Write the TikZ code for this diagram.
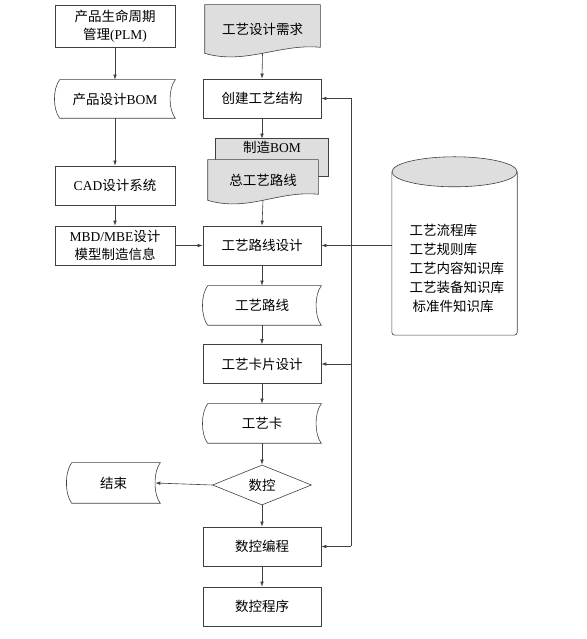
\documentclass[tikz,border=0pt]{standalone}
\usepackage{fontspec}
\setmainfont{Liberation Serif}
\newfontfamily\cjk{Noto Sans CJK SC}
\usepackage{tikz}
\usetikzlibrary{arrows.meta,shapes.geometric,backgrounds}
\definecolor{docgray}{gray}{0.87}
\newcommand{\zh}[1]{{\cjk #1}}

\tikzset{
  flow/.style={draw=black!75, line width=0.6pt},
  arr/.style={flow, -{Latex[length=5pt,width=3.5pt]}},
  box/.style={flow, rectangle, minimum width=118pt, minimum height=39pt, inner sep=2pt, align=center},
  lbox/.style={box, minimum width=120pt},
  stored/.style={box, draw=none},
  decide/.style={flow, diamond, minimum width=99pt, minimum height=40pt, inner sep=0pt},
}

% stored data: bulge out on the left, in on the right
\newcommand{\storedpath}[1]{%
  \draw[flow] ([xshift=5pt]#1.north west) -- (#1.north east)
    .. controls ([xshift=-7pt,yshift=-9pt]#1.north east) and ([xshift=-7pt,yshift=9pt]#1.south east) .. (#1.south east)
    -- ([xshift=5pt]#1.south west)
    .. controls ([xshift=-2pt,yshift=9pt]#1.south west) and ([xshift=-2pt,yshift=-9pt]#1.north west) .. cycle;}
% document: wavy bottom
\newcommand{\docpath}[1]{%
  \draw[flow, fill=docgray] (#1.south west) -- (#1.north west) -- (#1.north east) -- ([yshift=6pt]#1.south east)
    .. controls ([xshift=-40pt,yshift=10pt]#1.south east) and ([xshift=40pt,yshift=-12pt]#1.south west) .. cycle;}

\begin{document}
\begin{tikzpicture}[x=1pt, y=1pt, font=\fontsize{13.5}{18}\selectfont]
\useasboundingbox (0,0) rectangle (586,639);

% left column
\node[lbox, minimum height=42pt] (plm) at (115,613) {\zh{产品生命周期}\\\zh{管理}(PLM)};
\node[stored, minimum width=120pt, minimum height=38pt] (pbom) at (115,540) {\zh{产品设计}BOM};
\node[lbox] (cad) at (115,453.5) {CAD\zh{设计系统}};
\node[lbox] (mbd) at (115,393.5) {MBD/MBE\zh{设计}\\\zh{模型制造信息}};

% centre column
\node[box, draw=none, minimum width=115pt, minimum height=48pt] (req) at (262.5,610) {\zh{工艺设计需求}};
\node[box] (create) at (262,540.5) {\zh{创建工艺结构}};
\node[box, draw=none, minimum width=112pt, minimum height=37pt, text height=10pt, text depth=20pt] (mbom) at (272,481.5) {\zh{制造}BOM};
\node[box, draw=none, minimum width=110pt, minimum height=40pt] (route0) at (263,459) {\zh{总工艺路线}};
\node[box] (rdesign) at (262,393.5) {\zh{工艺路线设计}};
\node[stored] (route) at (262,333.5) {\zh{工艺路线}};
\node[box] (carddesign) at (262,275) {\zh{工艺卡片设计}};
\node[stored] (card) at (262,215.5) {\zh{工艺卡}};
\node[decide] (nc) at (262,154) {\zh{数控}};
\node[stored, minimum width=93pt, minimum height=40pt] (finish) at (113.5,156) {\zh{结束}};
\node[box] (ncprog) at (262,92.5) {\zh{数控编程}};
\node[box] (ncprogram) at (262,32.5) {\zh{数控程序}};

% knowledge base
\node[minimum width=125pt, minimum height=163pt] (db) at (454.5,385.5) {};
\node[anchor=west, align=left, font=\fontsize{13.5}{19}\selectfont] (kb) at (406,371)
  {\zh{工艺流程库}\\\zh{工艺规则库}\\\zh{工艺内容知识库}\\\zh{工艺装备知识库}\\\hspace{3pt}\zh{标准件知识库}};

% shapes behind the text
\begin{scope}[on background layer]
\docpath{req}
\draw[flow, fill=docgray] (mbom.north west) rectangle (mbom.south east);
\docpath{route0}
\storedpath{pbom}
\storedpath{route}
\storedpath{card}
\storedpath{finish}
\draw[flow, rounded corners=3pt] (db.north west) -- (db.south west) -- (db.south east) -- (db.north east);
\draw[flow, fill=docgray] (db.north) ellipse (62.5pt and 15pt);
\end{scope}

% connectors
\draw[arr] (plm) -- (pbom);
\draw[arr] (pbom) -- (cad);
\draw[arr] (cad) -- (mbd);
\draw[arr] (mbd) -- (rdesign);
\draw[arr] (req.south) -- (create.north);
\draw[arr] (create.south) -- (create.south |- mbom.north);
\draw[arr] (route0.south) -- (rdesign.north);
\draw[arr] (rdesign) -- (route);
\draw[arr] (route) -- (carddesign);
\draw[arr] (carddesign) -- (card);
\draw[arr] (card) -- (nc);
\draw[arr] (nc.west) -- ([xshift=-5pt]finish.east);
\draw[arr] (nc) -- (ncprog);
\draw[arr] (ncprog) -- (ncprogram);
\draw[arr] (db.west |- rdesign.east) -- (rdesign.east);

% feedback rail
\coordinate (railtop) at (351,540.5);
\coordinate (railbot) at (351,92.5);
\draw[flow] (railtop) -- (railbot);
\draw[arr] (railtop) -- (create.east);
\draw[arr] (railtop |- carddesign.east) -- (carddesign.east);
\draw[arr] (railbot) -- (ncprog.east);
\end{tikzpicture}
\end{document}
